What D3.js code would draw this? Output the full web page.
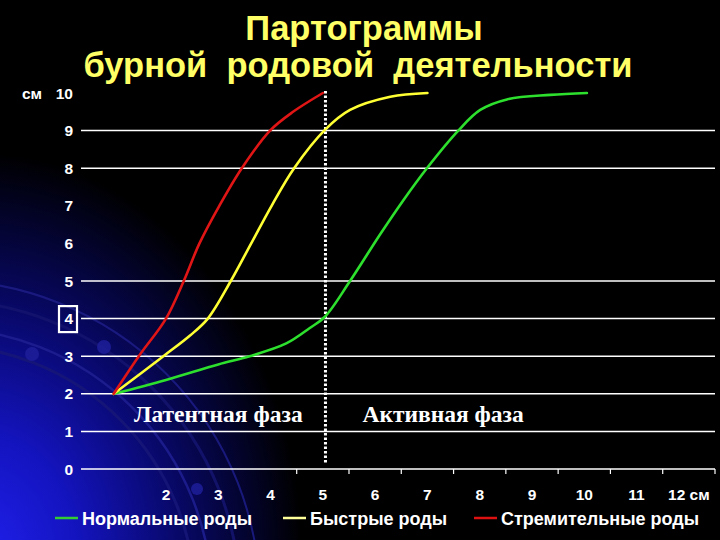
<!DOCTYPE html>
<html><head><meta charset="utf-8">
<script src="https://cdn.jsdelivr.net/npm/d3@7"></script>
<style>html,body{margin:0;padding:0;background:#000;}svg{display:block;}</style>
</head><body>
<script>
// ---- data ----
const titleLines = ["Партограммы", "бурной  родовой  деятельности"];
const yTicks = [0,1,2,3,4,5,6,7,8,9,10];
const gridValues = [0,1,2,3,4,5,8,9];
const xTicks = [2,3,4,5,6,7,8,9,10,11,12];
const xTickMarks = [4.5,5.5,6.5,7.5,8.5,9.5,10.5,11.5,12.5];
const phaseLabels = ["Латентная фаза", "Активная фаза"];
const phaseX = [3.0, 7.3];
const phaseY = 1.25;
const boundaryX = 5.05;
const highlightY = 4;

const seriesNames = ["Нормальные роды", "Быстрые роды", "Стремительные роды"];
const seriesColors = ["#2ee02e", "#ffff33", "#e01515"];
const legendColors = ["#33cc33", "#ffff99", "#dd1111"];

const normalX = [1, 2, 3, 3.6, 4.3, 4.75, 5.04, 5.52, 6.1, 6.54, 6.99, 7.59, 8.01, 8.52, 9.35, 10.05];
const normalY = [2, 2.37, 2.78, 3, 3.34, 3.75, 4.05, 5, 6.25, 7.15, 8, 9, 9.55, 9.83, 9.95, 10];
const fastX = [1, 1.95, 2.46, 2.8, 3.24, 3.63, 4.02, 4.45, 5.04, 5.52, 6.29, 7];
const fastY = [2, 3, 3.55, 4, 5, 6, 7, 8, 9.02, 9.55, 9.9, 10];
const rapidX = [1, 1.48, 2.0, 2.34, 2.64, 3.02, 3.45, 3.99, 4.43, 5.0];
const rapidY = [2, 3, 4, 5, 6, 7, 8, 9, 9.5, 10];

const W = 720, H = 540;
const svg = d3.select("body").append("svg").attr("width", W).attr("height", H);

// background
const defs = svg.append("defs");
const rg = defs.append("radialGradient").attr("id","glow")
  .attr("gradientUnits","userSpaceOnUse").attr("cx",-20).attr("cy",560).attr("r",340)
  .attr("gradientTransform","translate(-20,560) scale(0.95,1.2) translate(20,-560)");
rg.append("stop").attr("offset",0).attr("stop-color","#2020ee");
rg.append("stop").attr("offset",0.3).attr("stop-color","#1414c0");
rg.append("stop").attr("offset",0.62).attr("stop-color","#080868");
rg.append("stop").attr("offset",1).attr("stop-color","#000000");
svg.append("rect").attr("width",W).attr("height",H).attr("fill","#000");
svg.append("rect").attr("width",W).attr("height",H).attr("fill","url(#glow)");

// decorative arcs
const arcG = svg.append("g").attr("fill","none");
[[255,"#161678",3],[272,"#1e1e90",2.5],[300,"#14146e",3],[320,"#1c1c84",2]].forEach(([r,c,w])=>{
  arcG.append("circle").attr("cx",-60).attr("cy",600).attr("r",r)
    .attr("stroke",c).attr("stroke-width",w).attr("opacity",0.9);
});
[[32,354,7],[104,347,7],[197,489,6]].forEach(([cx,cy,r])=>{
  svg.append("circle").attr("cx",cx).attr("cy",cy).attr("r",r).attr("fill","#1e1e9a").attr("opacity",0.85);
});

// scales
const x = d3.scaleLinear().domain([1, 12.5]).range([113.7, 715]);
const y = d3.scaleLinear().domain([0, 10]).range([469, 93]);

// grid
svg.append("g").selectAll("line").data(gridValues).join("line")
  .attr("x1", 81).attr("x2", x(12.5))
  .attr("y1", d=>y(d)).attr("y2", d=>y(d))
  .attr("stroke","#fff").attr("stroke-width",1.5);

// x tick marks
svg.append("g").selectAll("line").data(xTickMarks).join("line")
  .attr("x1", d=>x(d)).attr("x2", d=>x(d))
  .attr("y1", y(0)).attr("y2", y(0)+5)
  .attr("stroke","#fff").attr("stroke-width",1.2);

const sans = "Liberation Sans, Arial, sans-serif";
// y labels
svg.append("g").selectAll("text").data(yTicks).join("text")
  .attr("x", 73).attr("y", d=>y(d)).attr("dy","0.36em")
  .attr("text-anchor","end").attr("fill","#fff")
  .attr("font-family",sans).attr("font-weight","bold").attr("font-size",15.5)
  .text(d=>d);
svg.append("text").attr("x",22).attr("y",y(10)).attr("dy","0.36em").attr("fill","#fff")
  .attr("font-family",sans).attr("font-weight","bold").attr("font-size",15.5).text("см");
svg.append("rect").attr("x",59).attr("y",y(highlightY)-12.5).attr("width",18).attr("height",26)
  .attr("fill","none").attr("stroke","#fff").attr("stroke-width",2.2);

// x labels
svg.append("g").selectAll("text").data(xTicks).join("text")
  .attr("x", d=>x(d)).attr("y", 500)
  .attr("text-anchor","middle").attr("fill","#fff")
  .attr("font-family",sans).attr("font-weight","bold").attr("font-size",15.5)
  .text((d,i)=> i===xTicks.length-1 ? d+" см" : d);

// boundary dotted line
svg.append("line").attr("x1",x(boundaryX)).attr("x2",x(boundaryX)).attr("y1",y(10)-2).attr("y2",y(0)-6)
  .attr("stroke","#fff").attr("stroke-width",3).attr("stroke-dasharray","2.5,2");

// phase labels
svg.append("g").selectAll("text").data(phaseLabels).join("text")
  .attr("x",(d,i)=>x(phaseX[i])).attr("y",y(phaseY)).attr("text-anchor","middle")
  .attr("fill","#fff").attr("font-family","Liberation Serif, Times New Roman, serif")
  .attr("font-weight","bold").attr("font-size",23.5).text(d=>d);

// series
const line = d3.line().x(d=>x(d[0])).y(d=>y(d[1])).curve(d3.curveCatmullRom.alpha(0.5));
const series = [
  d3.zip(normalX, normalY),
  d3.zip(fastX, fastY),
  d3.zip(rapidX, rapidY)
];
series.forEach((s,i)=>{
  svg.append("path").datum(s).attr("d",line).attr("fill","none")
    .attr("stroke",seriesColors[i]).attr("stroke-width",2.6).attr("stroke-linecap","round");
});

// title
svg.append("g").selectAll("text").data(titleLines).join("text")
  .attr("x",(d,i)=> i===0 ? 364 : 358).attr("y",(d,i)=> i===0 ? 40 : 77)
  .attr("text-anchor","middle").attr("fill","#ffff66")
  .attr("font-family",sans).attr("font-weight","bold").attr("font-size",34.5)
  .attr("xml:space","preserve").style("white-space","pre")
  .text(d=>d);

// legend
const legX = [55, 283, 474];
const lg = svg.append("g");
seriesNames.forEach((n,i)=>{
  lg.append("line").attr("x1",legX[i]).attr("x2",legX[i]+23).attr("y1",518).attr("y2",518)
    .attr("stroke",legendColors[i]).attr("stroke-width",2.5);
  lg.append("text").attr("x",legX[i]+27).attr("y",524.5).attr("fill","#fff")
    .attr("font-family",sans).attr("font-weight","bold").attr("font-size",18)
    .text(n);
});
</script>
</body></html>
